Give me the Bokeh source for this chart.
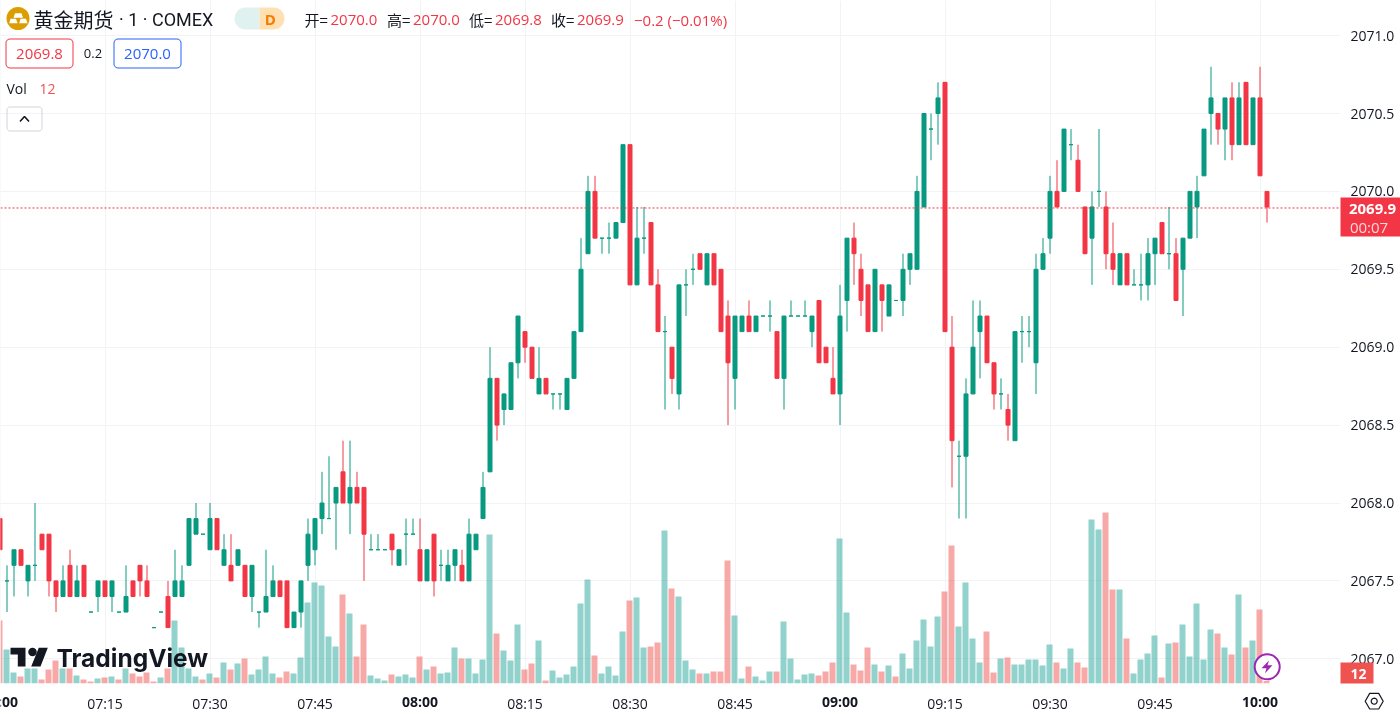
from bokeh.plotting import figure
from bokeh.embed import file_html
from bokeh.resources import INLINE
from bokeh.models import Range1d, FixedTicker, Label, BoxAnnotation
import numpy as np

# ---- data ----
base = 2000
opens = [67.9,67.5,67.6,67.7,67.5,67.6,67.8,67.8,67.5,67.4,67.6,67.4,67.6,67.3,67.4,67.5,67.4,67.3,67.3,67.5,
 67.6,67.5,67.2,67.3,67.4,67.4,67.4,67.6,67.8,67.8,67.7,67.9,67.6,67.6,67.6,67.6,67.4,67.3,67.3,67.4,
 67.5,67.5,67.2,67.3,67.6,67.7,67.9,67.9,68.0,68.2,68.0,68.1,68.1,67.7,67.7,67.7,67.8,67.6,67.8,67.8,
 67.7,67.5,67.8,67.6,67.5,67.6,67.6,67.5,67.7,67.9,68.2,68.8,68.6,68.6,68.9,69.1,69.0,68.7,68.8,68.7,
 68.7,68.6,68.8,69.1,69.6,70.0,69.7,69.7,69.7,69.8,70.3,69.4,69.7,69.8,69.4,69.1,69.0,68.7,69.4,69.5,
 69.6,69.4,69.6,69.5,69.2,68.8,69.1,69.2,69.1,69.2,69.2,69.1,68.8,69.2,69.2,69.2,69.1,69.3,69.0,68.8,
 68.7,69.3,69.7,69.5,69.4,69.1,69.4,69.2,69.3,69.3,69.5,69.5,69.9,70.4,70.5,70.7,69.0,68.3,68.3,68.7,
 69.1,69.2,68.9,68.7,68.6,68.4,69.1,69.1,68.9,69.5,69.7,70.0,70.0,70.3,70.2,69.9,69.7,70.0,69.9,69.6,
 69.4,69.6,69.4,69.4,69.4,69.6,69.8,69.6,69.6,69.5,69.7,69.9,70.1,70.5,70.5,70.4,70.6,70.3,70.7,70.3,
 70.6,70.0]
highs = [67.9,67.6,67.7,67.7,67.6,68.0,67.8,67.8,67.5,67.6,67.7,67.6,67.6,67.3,67.5,67.5,67.5,67.3,67.6,67.5,
 67.6,67.6,67.2,67.3,67.5,67.7,67.6,67.9,68.0,67.8,68.0,67.9,67.8,67.8,67.7,67.6,67.6,67.3,67.7,67.6,
 67.5,67.5,67.3,67.5,67.9,67.9,68.2,68.3,68.1,68.4,68.4,68.2,68.1,67.8,67.8,67.7,67.8,67.7,67.9,67.9,
 67.9,67.7,67.8,67.7,67.7,67.7,67.7,67.9,67.8,68.2,69.0,68.8,68.7,68.9,69.2,69.1,69.0,69.0,68.8,68.7,
 68.7,68.8,69.1,69.7,70.1,70.1,69.7,69.8,69.8,70.3,70.3,69.9,69.9,69.8,69.5,69.2,69.0,69.4,69.5,69.6,
 69.6,69.6,69.6,69.5,69.3,69.2,69.2,69.3,69.2,69.2,69.3,69.1,69.2,69.3,69.2,69.3,69.2,69.3,69.0,69.0,
 69.4,69.7,69.8,69.6,69.4,69.5,69.4,69.4,69.3,69.6,69.6,70.1,70.5,70.5,70.7,70.7,69.2,68.4,68.8,69.3,
 69.3,69.2,68.9,68.8,68.7,69.1,69.2,69.2,69.6,69.7,70.1,70.2,70.4,70.4,70.3,69.9,70.0,70.4,70.0,69.8,
 69.6,69.6,69.5,69.6,69.7,69.7,69.8,69.9,69.7,69.7,70.0,70.1,70.4,70.8,70.5,70.6,70.7,70.7,70.7,70.6,
 70.8,70.0]
lows = [67.7,67.3,67.4,67.6,67.4,67.5,67.7,67.4,67.3,67.4,67.4,67.4,67.4,67.3,67.3,67.4,67.3,67.3,67.3,67.4,
 67.4,67.4,67.2,67.3,67.2,67.4,67.4,67.6,67.8,67.8,67.7,67.7,67.6,67.5,67.6,67.4,67.3,67.2,67.3,67.4,
 67.4,67.2,67.2,67.2,67.5,67.6,67.8,67.9,67.7,68.0,67.8,68.0,67.5,67.7,67.7,67.7,67.6,67.6,67.6,67.8,
 67.5,67.5,67.4,67.5,67.5,67.5,67.5,67.5,67.7,67.9,68.2,68.4,68.5,68.6,68.8,68.9,68.8,68.7,68.7,68.6,
 68.6,68.6,68.8,69.1,69.6,69.7,69.6,69.6,69.7,69.8,69.4,69.4,69.6,69.4,69.1,68.6,68.7,68.6,69.2,69.4,
 69.5,69.4,69.4,69.1,68.5,68.6,69.1,69.1,69.1,69.2,69.1,68.8,68.6,69.2,69.2,69.2,69.0,68.9,68.9,68.7,
 68.5,69.1,69.4,69.2,69.1,69.1,69.1,69.2,69.3,69.2,69.4,69.5,69.9,70.2,70.3,69.1,68.1,67.9,67.9,68.7,
 68.8,68.9,68.6,68.6,68.4,68.4,68.9,69.0,68.7,69.5,69.6,69.9,70.0,70.2,70.0,69.6,69.4,69.9,69.5,69.4,
 69.4,69.4,69.4,69.3,69.3,69.4,69.6,69.5,69.3,69.2,69.7,69.7,70.1,70.3,70.3,70.2,70.2,70.3,70.3,70.3,
 70.1,69.8]
closes = [67.7,67.5,67.7,67.6,67.6,67.6,67.7,67.5,67.4,67.5,67.4,67.5,67.4,67.3,67.5,67.4,67.5,67.3,67.4,67.4,
 67.5,67.4,67.2,67.3,67.2,67.5,67.5,67.9,67.9,67.8,67.9,67.7,67.7,67.5,67.7,67.4,67.6,67.3,67.4,67.5,
 67.4,67.2,67.3,67.5,67.8,67.9,68.0,67.9,68.1,68.0,68.1,68.0,67.8,67.7,67.7,67.7,67.7,67.7,67.8,67.8,
 67.5,67.7,67.5,67.6,67.6,67.7,67.5,67.8,67.8,68.1,68.8,68.5,68.7,68.9,69.2,69.0,68.8,68.8,68.7,68.7,
 68.7,68.8,69.1,69.5,70.0,69.7,69.7,69.7,69.8,70.3,69.4,69.7,69.7,69.4,69.1,69.1,68.8,69.4,69.4,69.5,
 69.5,69.6,69.4,69.1,68.9,69.2,69.2,69.1,69.2,69.2,69.2,68.8,69.2,69.2,69.2,69.2,69.2,68.9,68.9,68.7,
 69.2,69.7,69.6,69.3,69.1,69.5,69.3,69.4,69.3,69.5,69.6,70.0,70.5,70.4,70.6,69.1,68.4,68.3,68.7,69.0,
 69.2,68.9,68.7,68.7,68.5,69.1,69.1,69.1,69.5,69.6,70.0,69.9,70.4,70.3,70.0,69.6,69.9,70.0,69.6,69.5,
 69.6,69.4,69.4,69.4,69.6,69.7,69.6,69.6,69.3,69.7,70.0,70.0,70.4,70.6,70.4,70.6,70.3,70.6,70.3,70.6,
 70.1,69.9]
volumes = [315,170,55,35,75,75,20,70,115,75,75,40,20,10,25,30,35,20,75,50,
 35,55,10,30,75,315,180,75,35,20,50,30,105,70,100,125,45,70,135,50,
 30,60,50,130,405,505,490,235,185,445,350,135,295,40,25,15,45,35,45,30,
 135,70,85,50,55,180,125,125,50,120,745,250,165,115,295,70,100,215,15,65,
 30,45,85,400,520,140,50,85,40,260,415,430,180,185,205,765,475,435,115,70,
 50,50,60,60,615,340,25,85,35,15,60,60,310,125,20,45,50,40,60,105,
 725,355,95,65,180,95,60,90,35,150,75,215,320,185,335,460,690,285,505,225,
 105,260,55,125,130,95,95,120,120,90,195,105,75,175,105,80,820,770,855,470,
 470,225,50,120,150,240,30,200,205,295,135,400,120,270,250,180,145,445,180,215,
 370,12]
# bars of the volume pane that are drawn in the falling colour
volume_falling = [0,3,6,7,8,10,12,13,15,17,19,20,21,22,24,29,31,33,35,40,41,49,51,52,56,60,62,66,71,75,76,78,85,
            90,93,94,96,100,102,103,104,107,111,117,118,119,122,123,124,126,128,135,136,141,142,144,151,
            154,155,158,159,161,166,168,174,176,178,180,181]
time_major = ["07:15","07:30","07:45","08:15","08:30","08:45","09:15","09:30","09:45"]
time_major_bars = [15,30,45,75,90,105,135,150,165]
time_bold = ["07:00","08:00","09:00","10:00"]
time_bold_bars = [0,60,120,180]
price_ticks = [2067.0,2067.5,2068.0,2068.5,2069.0,2069.5,2070.0,2070.5,2071.0]

n = len(opens)

# ---- pixel geometry of the pane ----
PXX = 7.0; PXY = 155.8
def X(px): return (px + 0.5) / PXX
def Y(py): return 2067 + (658.3 - py) / PXY

o = np.array(opens) + base; h = np.array(highs) + base; l = np.array(lows) + base; c = np.array(closes) + base
idx = np.arange(n)
GREEN, RED = "#089981", "#F23645"
cols = [GREEN if u else RED for u in (c >= o)]
vcols = ["#EF5350" if i in volume_falling else "#26A69A" for i in range(n)]

p = figure(width=1400, height=713, frame_width=1340, frame_height=683,
           x_range=Range1d(X(0), X(1340)), y_range=Range1d(Y(683), Y(0)),
           output_backend="svg", toolbar_location=None, y_axis_location="right",
           min_border_left=0, min_border_top=0, min_border_right=60, min_border_bottom=30,
           background_fill_color="white", border_fill_color="white", outline_line_color=None)
p.styles = {"position": "fixed", "left": "0px", "top": "0px"}
p.extra_y_ranges = {"vol": Range1d(0, 683 / 0.2)}

AXIS_FONT = "Open Sans"
p.xgrid.ticker = FixedTicker(ticks=list(range(0, 200, 15)))
p.ygrid.ticker = FixedTicker(ticks=price_ticks)
p.xgrid.grid_line_color = "#F2F3F5"; p.ygrid.grid_line_color = "#F2F3F5"

xa = p.xaxis[0]
xa.ticker = FixedTicker(ticks=time_major_bars)
xa.major_label_overrides = dict(zip(time_major_bars, time_major))
ya = p.yaxis[0]
ya.ticker = FixedTicker(ticks=price_ticks)
ya.major_label_overrides = {t: f"{t:.1f}" for t in price_ticks}
for a in (xa, ya):
    a.axis_line_color = None
    a.major_tick_line_color = None
    a.minor_tick_line_color = None
    a.major_tick_out = 0
    a.major_tick_in = 0
    a.major_label_text_color = "#131722"
    a.major_label_text_font = AXIS_FONT
    a.major_label_text_font_size = "14px"
xa.major_label_standoff = 10
ya.major_label_standoff = 10

# volume
p.vbar(x=idx - 0.5 / PXX, top=volumes, bottom=0, width=6 / PXX, y_range_name="vol",
       fill_color=vcols, fill_alpha=0.5, line_color=None)
# candles
p.segment(idx, l, idx, h, line_color=cols, line_width=1)
p.vbar(x=idx, top=np.maximum(o, c), bottom=np.minimum(o, c), width=4 / PXX,
       fill_color=cols, line_color=cols, line_width=1)
# last price line (snapped to its pixel row)
p.line([X(0), X(1340)], [c[-1] - 1 / PXY] * 2, line_color=RED, line_width=1, line_dash="2 2")

# ---- transparent sheet over the whole page for legend, tags and badges, in page pixels ----
q = figure(width=1400, height=713, x_range=Range1d(0, 1400), y_range=Range1d(713, 0),
           x_axis_type=None, y_axis_type=None, output_backend="svg", toolbar_location=None,
           min_border=0, background_fill_color=None, border_fill_color=None, outline_line_color=None)
q.grid.visible = False
q.styles = {"position": "fixed", "left": "0px", "top": "0px"}

def text(s, px, py, size=15, color="#131722", font=AXIS_FONT, weight="normal", align="left"):
    q.add_layout(Label(x=px, y=py, text=s, text_font=font, text_font_size=f"{size}px",
                       text_color=color, text_font_style=weight, text_align=align, text_baseline="middle"))

def box(x0, x1, y0, y1, fill=None, line=None, radius=0, lw=1):
    q.add_layout(BoxAnnotation(left=x0, right=x1, top=y0, bottom=y1,
                               fill_color=fill or "white", fill_alpha=1 if fill else 0,
                               line_color=line, line_width=lw, border_radius=radius))

def shape(pts, fill=None, line=None, lw=1):
    q.patch([a for a, b in pts], [b for a, b in pts], fill_color=fill or "white", fill_alpha=1 if fill else 0,
            line_color=line, line_width=lw)

def outline(x0, x1, y0, y1, r, line):
    pts = []
    for cx_, cy_, a0 in ((x1 - r, y0 + r, -90), (x1 - r, y1 - r, 0), (x0 + r, y1 - r, 90), (x0 + r, y0 + r, 180)):
        for a in np.deg2rad(np.linspace(a0, a0 + 90, 7)):
            pts.append((cx_ + r * np.cos(a), cy_ + r * np.sin(a)))
    shape(pts, line=line)

# time labels (session marks are bold)
for s, t in zip(time_bold, time_bold_bars):
    text(s, 7 * t - 0.5, 700.5, size=14, weight="bold", align="center")

# header
q.scatter([17.5], [18], size=23, fill_color="#DB9D00", line_color=None)
for pts in ([(14.5, 12.7), (21, 12.7), (22.5, 17.3), (13, 17.3)],
            [(10, 18.3), (15.5, 18.3), (17, 22.7), (8.7, 22.7)],
            [(20, 18.3), (25.5, 18.3), (27, 22.7), (18.7, 22.7)]):
    shape(pts, fill="white")
text("黄金期货", 33, 19, size=20, font="Noto Sans CJK SC")
text("· 1 · COMEX", 118.5, 19, size=18, font="Roboto")
box(234, 259, 7, 29, fill="#DFF2EF", radius=dict(top_left=11, bottom_left=11, top_right=0, bottom_right=0))
box(259, 284, 7, 29, fill="#FFE0B2", radius=dict(top_left=0, bottom_left=0, top_right=11, bottom_right=11))
q.scatter([247.7], [18], size=9, fill_color=GREEN, line_color=None)
text("D", 269.7, 18, size=15, color="#F57C00", weight="bold", align="center")
for s, lab, px in (("开=", "2070.0", 304), ("高=", "2070.0", 386.5), ("低=", "2069.8", 468.5), ("收=", "2069.9", 550.5)):
    text(s, px, 19, size=15, font="Noto Sans CJK SC")
    text(lab, px + 26, 19, color=RED)
text("−0.2 (−0.01%)", 633.5, 19, color=RED)

outline(5.5, 72.5, 38.5, 67.5, 4, RED)
text("2069.8", 39, 53, color=RED, align="center")
text("0.2", 92.5, 53, size=13, align="center")
outline(113.5, 180.5, 38.5, 67.5, 4, "#2962FF")
text("2070.0", 147, 53, color="#2962FF", align="center")
text("Vol", 6, 88, size=14)
text("12", 39, 88, size=14, color="#EF5350")
outline(6.5, 41.5, 106.5, 130.5, 3, "#D1D4DC")
q.line([19.5, 24, 28.5], [121, 116, 121], line_color="#131722", line_width=1.6)

# TradingView mark
shape([(10, 647.3), (25, 647.3), (25, 666), (17.3, 666), (17.3, 654), (10, 654)], fill="#131722")
shape([(38.3, 647.3), (47.3, 647.3), (40, 666), (30.7, 666)], fill="#131722")
q.scatter([32], [651.5], size=8.5, fill_color="#131722", line_color=None)
text("TradingView", 56, 657, size=24.5, font="Inter", weight="bold")

# lightning badge
q.scatter([1266.7], [666.3], size=25, fill_color="white", line_color="#9C27B0", line_width=2)
shape([(1268.5, 660), (1261, 667.7), (1266, 667.7), (1264.5, 672.7), (1272, 664.7), (1267, 664.7)], fill="#9C27B0")

# price tags
box(1340, 1400, 197, 236, fill=RED)
text("2069.9", 1372, 208, color="white", weight="bold", align="center")
text("00:07", 1368.5, 226, color="#FBD7DA", align="center")
box(1340, 1373, 662, 683, fill="#EF5350")
text("12", 1358, 673, size=14, color="white", weight="bold", align="center")

# settings icon
cx, cy = 1373.7, 700.7
shape([(cx + 9 * np.cos(a), cy + 9 * np.sin(a)) for a in np.deg2rad([0, 60, 120, 180, 240, 300])], line="#131722", lw=1.2)
shape([(cx + 3 * np.cos(a), cy + 3 * np.sin(a)) for a in np.deg2rad(np.arange(0, 360, 24))], line="#131722", lw=1.2)

open("out.html", "w").write(file_html([p, q], INLINE))
